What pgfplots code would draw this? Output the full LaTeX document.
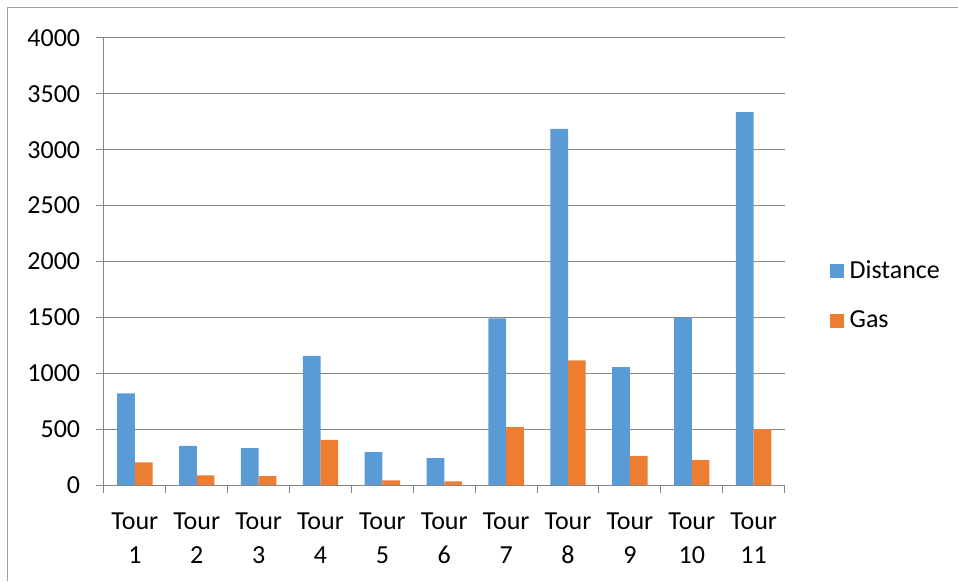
\documentclass[border=0pt]{standalone}
\usepackage{pgfplots}
\pgfplotsset{compat=1.18}
\usepackage{fontspec}
\setmainfont{Carlito}
\definecolor{dist}{RGB}{91,155,213}
\definecolor{gas}{RGB}{237,125,49}
\definecolor{gridc}{RGB}{134,134,134}
\definecolor{framec}{RGB}{160,160,160}
\begin{document}
\begin{tikzpicture}
\fontsize{26bp}{34bp}\selectfont
\begin{axis}[
    at={(0,0)}, anchor=south west,
    scale only axis,
    width=681bp, height=447.3bp,
    ybar=0pt, bar width=17.7bp,
    xmin=0.5, xmax=11.5,
    ymin=0, ymax=4000,
    ytick={0,500,...,4000},
    xtick={1,...,11},
    xticklabels={Tour\\1,Tour\\2,Tour\\3,Tour\\4,Tour\\5,Tour\\6,Tour\\7,Tour\\8,Tour\\9,Tour\\10,Tour\\11},
    minor xtick={0.5,1.5,...,11.5},
    xticklabel style={align=center, yshift=-11bp, font=\fontsize{26bp}{34bp}\selectfont},
    yticklabel style={xshift=-7bp, font=\fontsize{26bp}{34bp}\selectfont},
    /pgf/number format/assume math mode=true,
    /pgf/number format/1000 sep={},
    scaled y ticks=false,
    axis x line*=bottom, axis y line*=left,
    axis line style={gridc, line width=1bp, -},
    tick align=outside,
    major tick length=8bp, minor tick length=8bp,
    major x tick style={draw=none},
    tick style={gridc, line width=1bp},
    ymajorgrids, grid style={gridc, line width=1bp},
    legend style={at={(1.0617,0.4228)}, anchor=west, draw=none, fill=none,
        font=\fontsize{26bp}{30bp}\selectfont, row sep=29bp,
        nodes={inner sep=0pt}},
    legend cell align=left,
    legend image code/.code={\fill[#1] (0bp,-7bp) rectangle (14bp,7bp);},
]
\addplot[fill=dist, draw=none] coordinates {
    (1,821) (2,351) (3,330) (4,1155) (5,295) (6,241)
    (7,1491) (8,3187) (9,1056) (10,1497) (11,3336)};
\addplot[fill=gas, draw=none] coordinates {
    (1,202) (2,86) (3,80) (4,405) (5,41) (6,32)
    (7,518) (8,1116) (9,262) (10,223) (11,500)};
\legend{\ Distance,\ Gas}
\end{axis}
\draw[framec, line width=1bp] (-96bp,-95.7bp) -- (-96bp,477.3bp) -- (854bp,477.3bp);
\path[use as bounding box] (-104bp,-95.7bp) rectangle (854bp,485.3bp);
\end{tikzpicture}
\end{document}
